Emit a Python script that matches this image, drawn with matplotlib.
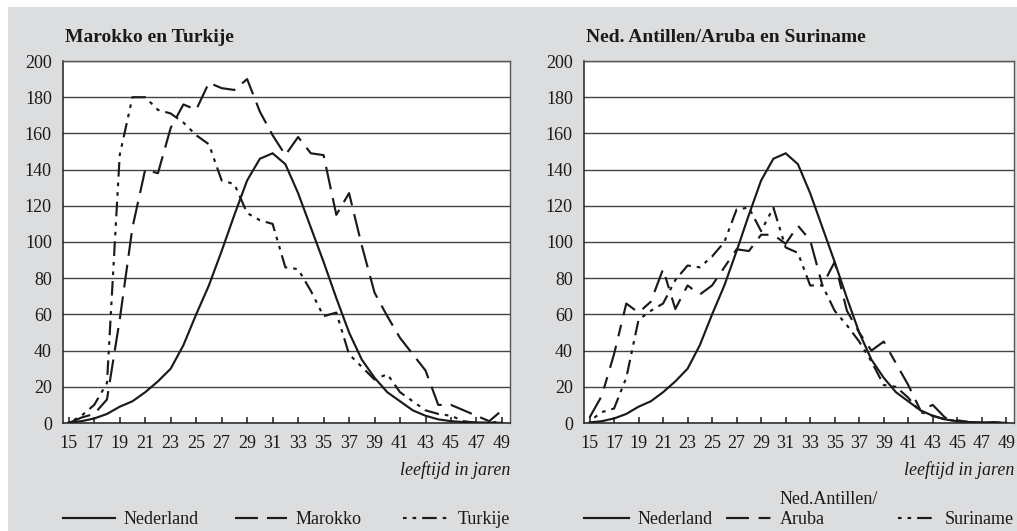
import matplotlib
matplotlib.use("Agg")
import matplotlib.pyplot as plt
from matplotlib.patches import Rectangle
from matplotlib.offsetbox import TextArea

plt.rcParams['font.family'] = ['Liberation Serif', 'DejaVu Serif']
plt.rcParams['lines.scale_dashes'] = False

# Fertility rates per 1000 women by age
ages = list(range(15, 50))
nederland = [0.3, 1, 2.5, 5, 9, 12, 17, 23, 30, 43, 60, 76, 95, 115, 134, 146, 149, 143,
             127, 108, 89, 69, 50, 35, 25, 17, 12, 7, 4, 2, 1, 0.5, 0.3, 0.2, 0.1]
marokko = [0, 3, 5, 13, 57, 108, 140, 138, 163, 176, 173, 188, 185, 184, 190, 172, 159, 148,
           158, 149, 148, 115, 127, 98, 72, 59, 47, 38, 29, 10, 10, 7, 4, 1, 7]
turkije = [0, 4, 10, 22, 148, 180, 180, 173, 171, 166, 159, 154, 134, 132, 116, 112, 110, 86,
           85, 73, 59, 61, 38, 31, 24, 27, 17, 12, 7, 5, 4, 1, 0, 0, 1]
antillen = [3, 15, 38, 66, 61, 67, 85, 63, 76, 71, 76, 86, 96, 95, 104, 104, 99, 109,
            101, 76, 89, 62, 50, 40, 45, 33, 21, 7, 10, 3, 1.5, 0.5, 0, 0.5, 0]
suriname = [1, 6, 8, 25, 57, 62, 66, 79, 87, 86, 92, 100, 118, 119, 106, 119, 97, 94,
            76, 76, 62, 54, 45, 34, 21, 20, 14, 6, 4, 2, 1, 0.5, 0, 0, 0]

xtick_labels = list(range(15, 50, 2))
yticks = list(range(0, 201, 20))

titles = ["Marokko en Turkije", "Ned. Antillen/Aruba en Suriname"]
xlabel = "leeftijd in jaren"

INK = "#1a1a1a"
BG = "#dcdddf"
LW = 1.55
solid = "-"
long_dash = (0, (16.5, 6.5))
dot_dash = (10.5, (10.5, 4.3, 2.6, 4.3, 2.6, 4.3))
long_short = (0, (16.5, 7.0, 8.5, 7.0))


def bottom_line_baseline(box):
    """Align multi-line legend labels on their last line."""
    for child in box.get_children():
        if isinstance(child, TextArea):
            child.set_multilinebaseline(False)
        elif hasattr(child, "get_children"):
            bottom_line_baseline(child)


fig = plt.figure(figsize=(10.17, 5.31), dpi=100)
fig.patch.set_facecolor("white")
fig.patches.append(Rectangle((8 / 1017, 0), 1, 1 - 7 / 531, transform=fig.transFigure,
                             facecolor=BG, edgecolor="none", zorder=-10))

ax1 = fig.add_axes([63 / 1017, 108 / 531, 447 / 1017, 362 / 531])
ax2 = fig.add_axes([584 / 1017, 108 / 531, 430 / 1017, 362 / 531])

series = [
    [("Nederland", nederland, solid), ("Marokko", marokko, long_dash),
     ("Turkije", turkije, dot_dash)],
    [("Nederland", nederland, solid), ("Ned.Antillen/\nAruba", antillen, long_short),
     ("Suriname", suriname, dot_dash)],
]
handle_lengths = [2.9, 2.5]

for ax, title, ser, hl in zip([ax1, ax2], titles, series, handle_lengths):
    ax.set_facecolor("white")
    for label, vals, ls in ser:
        ax.plot(ages, vals, color=INK, lw=LW, linestyle=ls, label=label,
                solid_joinstyle="miter", dash_capstyle="butt", zorder=3)
    ax.set_xlim(14.55, 49.63)
    ax.set_ylim(0, 200)
    ax.set_yticks(yticks)
    ax.set_xticks(xtick_labels)
    ax.yaxis.grid(True, color="#444444", lw=1.0)
    ax.set_axisbelow(True)
    ax.tick_params(axis="y", length=0, pad=8, labelsize=13, colors=INK)
    ax.tick_params(axis="x", direction="in", length=4.5, width=1.1, pad=8.5,
                   labelsize=13, colors=INK)
    for side in ["left", "bottom"]:
        ax.spines[side].set_color("#222222")
        ax.spines[side].set_linewidth(1.1)
    for side in ["top", "right"]:
        ax.spines[side].set_color("#555555")
        ax.spines[side].set_linewidth(1.0)
    ax.set_title(title, loc="left", fontsize=14, fontweight="bold", color=INK, pad=14,
                 x=0.004)
    ax.text(1.0, -0.13, xlabel, transform=ax.transAxes, ha="right", va="center",
            fontsize=13, style="italic", color=INK)
    leg = ax.legend(loc="lower left", bbox_to_anchor=(0, -0.29, 1, 0.05), mode="expand",
                    ncol=3, frameon=False, fontsize=13, handlelength=hl,
                    handletextpad=0.45, borderpad=0, borderaxespad=0,
                    labelspacing=0.2, labelcolor=INK)
    bottom_line_baseline(leg)

fig.savefig("out.png", dpi=100, facecolor=fig.get_facecolor())
